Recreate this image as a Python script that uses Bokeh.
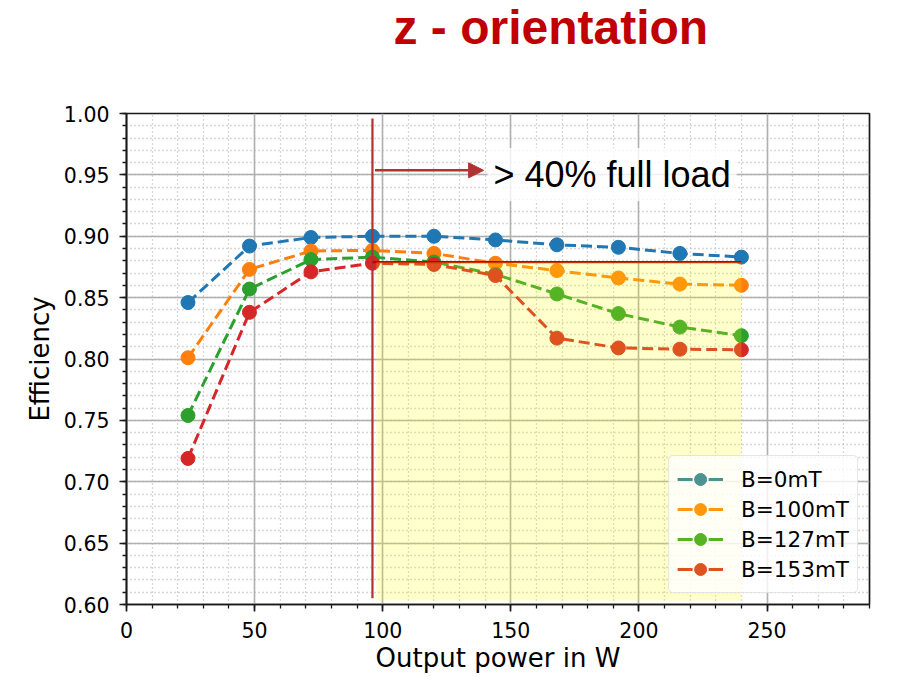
import numpy as np
from bokeh.plotting import figure
from bokeh.models import (Range1d, SingleIntervalTicker, PrintfTickFormatter, Legend, LegendItem,
                          BoxAnnotation, Label, Arrow, NormalHead, Title)
from bokeh.embed import file_html
from bokeh.resources import INLINE

# ---------------- data ----------------
power_w = [24, 48, 72, 96, 120, 144, 168, 192, 216, 240]
eff_0mT = [0.846, 0.892, 0.899, 0.900, 0.900, 0.897, 0.893, 0.891, 0.886, 0.883]
eff_100mT = [0.801, 0.873, 0.888, 0.8885, 0.886, 0.878, 0.872, 0.866, 0.861, 0.860]
eff_127mT = [0.754, 0.857, 0.881, 0.883, 0.879, 0.869, 0.853, 0.837, 0.826, 0.819]
eff_153mT = [0.719, 0.838, 0.871, 0.878, 0.877, 0.868, 0.817, 0.809, 0.808, 0.8075]
series_labels = ["B=0mT", "B=100mT", "B=127mT", "B=153mT"]
series_colors = ["#1f77b4", "#ff7f0e", "#2ca02c", "#d62728"]
# legend swatches as they appear under the translucent yellow highlight
legend_colors = ["#4c9290", "#ff990b", "#56b323", "#de5220"]

full_load_40 = 96          # 40 % of full load (W)
full_load = 240            # full load (W)
eff_threshold = 0.879      # efficiency threshold line
marker_top = 0.996
marker_bottom = 0.605
shade_left = 97.5
shade_bottom = 0.603
arrow_start = 97
arrow_end = 139.4
arrow_y = 0.9537
note_x = 140.9
note_y = 0.9503
title_text = "z - orientation"
note_text = "> 40% full load"

# ---------------- figure ----------------
W, H = 917, 677
p = figure(width=W, height=H, output_backend="svg", toolbar_location=None,
           x_range=Range1d(0, 290), y_range=Range1d(0.6, 1.0),
           min_border_left=126, min_border_top=113, min_border_right=W - 869,
           min_border_bottom=H - 604)
p.title.visible = False

# spacer panel between frame and title, then the real title above it
spacer = Title(text=" ", text_font_size="1px", standoff=55, text_color="white")
p.add_layout(spacer, "above")
main_title = Title(text=title_text, align="left", offset=267, vertical_align="top", standoff=0,
                   text_font="Liberation Sans", text_font_style="bold", text_font_size="48px",
                   text_color="#c00000")
p.add_layout(main_title, "above")

p.outline_line_color = "#1a1a1a"
p.outline_line_width = 1.7
p.outline_line_alpha = 1.0

p.xaxis.ticker = SingleIntervalTicker(interval=50, num_minor_ticks=5)
p.yaxis.ticker = SingleIntervalTicker(interval=0.05, num_minor_ticks=5)
p.yaxis.formatter = PrintfTickFormatter(format="%.2f")

for ax in (p.xaxis, p.yaxis):
    ax.axis_line_color = "#1a1a1a"
    ax.axis_line_width = 1.7
    ax.major_tick_line_color = "#1a1a1a"
    ax.major_tick_line_width = 1.7
    ax.minor_tick_line_color = "#1a1a1a"
    ax.minor_tick_line_width = 1.3
    ax.major_tick_in = 0
    ax.major_tick_out = 7
    ax.minor_tick_in = 0
    ax.minor_tick_out = 4
    ax.major_label_text_font = "DejaVu Sans"
    ax.major_label_text_font_size = "20.5px"
    ax.major_label_text_color = "#000000"
    ax.major_label_standoff = 10
    ax.axis_label_text_font = "DejaVu Sans"
    ax.axis_label_text_font_size = "26px"
    ax.axis_label_text_font_style = "normal"
    ax.axis_label_text_color = "#000000"

p.xaxis.axis_label = "Output power in W"
p.xaxis.axis_label_standoff = 2
p.yaxis.axis_label = "Efficiency"
p.yaxis.axis_label_standoff = 6

for g in (p.xgrid, p.ygrid):
    g.grid_line_color = "#b0b0b0"
    g.grid_line_width = 1.6
    g.minor_grid_line_color = "#b0b0b0"
    g.minor_grid_line_dash = "1 3"
    g.minor_grid_line_width = 1.3

# ---------------- series ----------------
nan_pt = np.array([np.nan])
items = []
for ys, lab, col, lcol in zip([eff_0mT, eff_100mT, eff_127mT, eff_153mT], series_labels,
                              series_colors, legend_colors):
    p.line(power_w, ys, line_color=col, line_width=3, line_dash="11 5")
    p.scatter(power_w, ys, size=14, fill_color=col, line_color=col)
    # legend swatch renderers (a single undrawn NaN point)
    ll = p.line(nan_pt, nan_pt, line_color=lcol, line_width=3, line_dash="15 16")
    ls = p.scatter(nan_pt, nan_pt, size=14, fill_color=lcol, line_color=lcol)
    items.append(LegendItem(label=lab, renderers=[ll, ls]))

legend = Legend(items=items, location="bottom_right", margin=11,
                label_text_font="DejaVu Sans", label_text_font_size="21.5px",
                label_text_color="#000000",
                glyph_width=46, glyph_height=30, label_height=30, label_standoff=18,
                padding=8, spacing=0,
                border_line_color="#cccccc", border_line_width=1.5,
                background_fill_color="white", background_fill_alpha=0.8)
try:
    legend.border_radius = 5
except Exception:
    pass
p.add_layout(legend, "center")

# ---------------- annotations ----------------
p.segment(x0=[full_load_40], y0=[marker_bottom], x1=[full_load_40], y1=[marker_top],
          line_color="#b03232", line_width=2.2)

shade = BoxAnnotation(left=shade_left, right=full_load, bottom=shade_bottom, top=eff_threshold,
                      fill_color="#ffff00", fill_alpha=0.2, line_color=None, level="overlay")
p.add_layout(shade)

hl = p.segment(x0=[full_load_40], y0=[eff_threshold], x1=[full_load], y1=[eff_threshold],
               line_color="#c00000", line_width=2.2)
hl.level = "overlay"

arrow = Arrow(end=NormalHead(size=15, fill_color="#b03232", line_color="#b03232"),
              x_start=arrow_start, y_start=arrow_y, x_end=arrow_end, y_end=arrow_y,
              line_color="#b03232", line_width=2.5)
p.add_layout(arrow)

note = Label(x=note_x, y=note_y, text=note_text, text_font="Liberation Sans",
             text_font_size="36px", text_color="#000000", text_baseline="alphabetic",
             background_fill_color="white", background_fill_alpha=0.8)
try:
    note.padding = 6
except Exception:
    pass
p.add_layout(note)

open("out.html", "w").write(file_html(p, INLINE))
